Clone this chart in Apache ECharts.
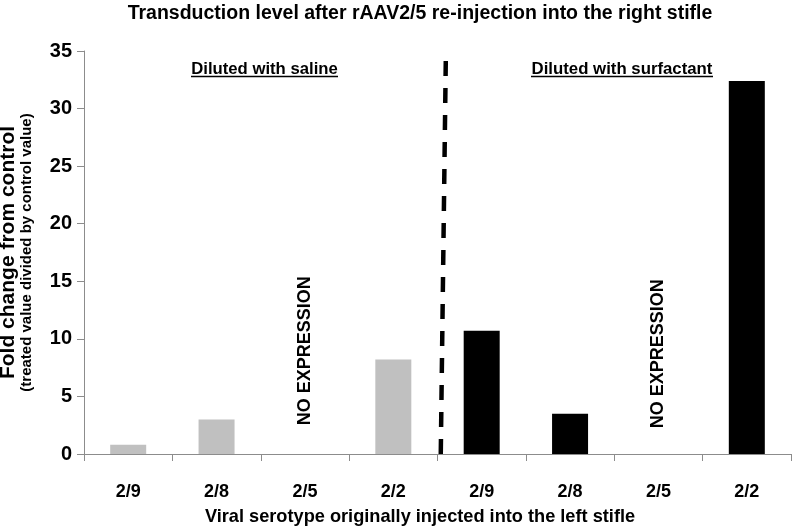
<!DOCTYPE html>
<html>
<head>
<meta charset="utf-8">
<script src="https://cdn.jsdelivr.net/npm/echarts@6/dist/echarts.min.js"></script>
<style>
html,body{margin:0;padding:0;background:#fff;}
#chart{width:792px;height:526px;}
</style>
</head>
<body>
<div id="chart"></div>
<script>
var categories = ['2/9', '2/8', '2/5', '2/2', '2/9', '2/8', '2/5', '2/2'];
var salineValues = [0.8, 3.0, null, 8.2, null, null, null, null];
var surfactantValues = [null, null, null, null, 10.7, 3.5, null, 32.4];
var yTicks = [0, 5, 10, 15, 20, 25, 30, 35];
var noExpressionIdx = [2, 6];
var noExpressionLevel = 8.7;
var dividerLine = [[4.037, 0], [4.094, 34.3]];

var FONT = 'Liberation Sans, Arial, Helvetica, sans-serif';
var chart = echarts.init(document.getElementById('chart'), null, {renderer: 'canvas'});

var option = {
  backgroundColor: '#ffffff',
  animation: false,
  grid: {left: 84, right: 1, top: 51, bottom: 72, containLabel: false, outerBoundsMode: 'none'},
  xAxis: [{
    type: 'category',
    data: categories,
    axisLine: {lineStyle: {color: '#8c8c8c', width: 1}},
    axisTick: {show: true, length: 7, alignWithLabel: false, lineStyle: {color: '#8c8c8c'}},
    axisLabel: {color: '#000', fontFamily: FONT, fontWeight: 'bold', fontSize: 18, margin: 29},
    splitLine: {show: false}
  }, {
    type: 'value', min: 0, max: 8, show: false
  }],
  yAxis: {
    type: 'value',
    min: yTicks[0],
    max: yTicks[yTicks.length - 1],
    interval: 5,
    axisLine: {show: true, lineStyle: {color: '#8c8c8c', width: 1}},
    axisTick: {show: true, length: 7, lineStyle: {color: '#8c8c8c'}},
    axisLabel: {color: '#000', fontFamily: FONT, fontWeight: 'bold', fontSize: 20, margin: 12},
    splitLine: {show: false},
    name: '{a|Fold change from control}\n{b|(treated value divided by control value)}',
    nameLocation: 'middle',
    nameRotate: 90,
    nameGap: 49,
    nameTextStyle: {
      align: 'center',
      rich: {
        a: {fontFamily: FONT, fontWeight: 'bold', fontSize: 21, color: '#000', lineHeight: 22, align: 'center'},
        b: {fontFamily: FONT, fontWeight: 'bold', fontSize: 15, color: '#000', lineHeight: 16, align: 'center'}
      }
    }
  },
  graphic: [
    {type: 'text', x: 420, y: 14, style: {text: 'Transduction level after rAAV2/5 re-injection into the right stifle', fontFamily: FONT, fontWeight: 'bold', fontSize: 19.5, fill: '#000', align: 'center', verticalAlign: 'middle'}},
    {type: 'text', x: 264.5, y: 69, style: {text: 'Diluted with saline', fontFamily: FONT, fontWeight: 'bold', fontSize: 16.7, fill: '#000', align: 'center', verticalAlign: 'middle'}},
    {type: 'line', shape: {x1: 191, y1: 76.5, x2: 338, y2: 76.5}, style: {stroke: '#000', lineWidth: 1.5}},
    {type: 'text', x: 622, y: 69, style: {text: 'Diluted with surfactant', fontFamily: FONT, fontWeight: 'bold', fontSize: 16.8, fill: '#000', align: 'center', verticalAlign: 'middle'}},
    {type: 'line', shape: {x1: 531, y1: 76.5, x2: 713, y2: 76.5}, style: {stroke: '#000', lineWidth: 1.5}},
    {type: 'text', x: 420, y: 517, style: {text: 'Viral serotype originally injected into the left stifle', fontFamily: FONT, fontWeight: 'bold', fontSize: 18.2, fill: '#000', align: 'center', verticalAlign: 'middle'}}
  ],
  series: [{
    name: 'Diluted with saline',
    type: 'bar',
    data: salineValues,
    barWidth: 36,
    barGap: '-100%',
    itemStyle: {color: '#c0c0c0'},
    markPoint: {
      symbol: 'circle', symbolSize: 0,
      label: {show: true, formatter: 'NO EXPRESSION', rotate: 90, fontFamily: FONT, fontWeight: 'bold', fontSize: 18, color: '#000', position: 'inside', offset: [3, 0]},
      data: [{coord: [noExpressionIdx[0], noExpressionLevel]}]
    }
  }, {
    name: 'Diluted with surfactant',
    type: 'bar',
    data: surfactantValues,
    barWidth: 36,
    barGap: '-100%',
    itemStyle: {color: '#000000'},
    markPoint: {
      symbol: 'circle', symbolSize: 0,
      label: {show: true, formatter: 'NO EXPRESSION', rotate: 90, fontFamily: FONT, fontWeight: 'bold', fontSize: 18, color: '#000', position: 'inside'},
      data: [{coord: [noExpressionIdx[1], noExpressionLevel]}]
    }
  }, {
    name: 'divider',
    type: 'line',
    xAxisIndex: 1,
    data: dividerLine,
    symbol: 'none',
    lineStyle: {color: '#000', width: 4.5, type: [15, 12]},
    z: 5
  }]
};
chart.setOption(option);
</script>
</body>
</html>
